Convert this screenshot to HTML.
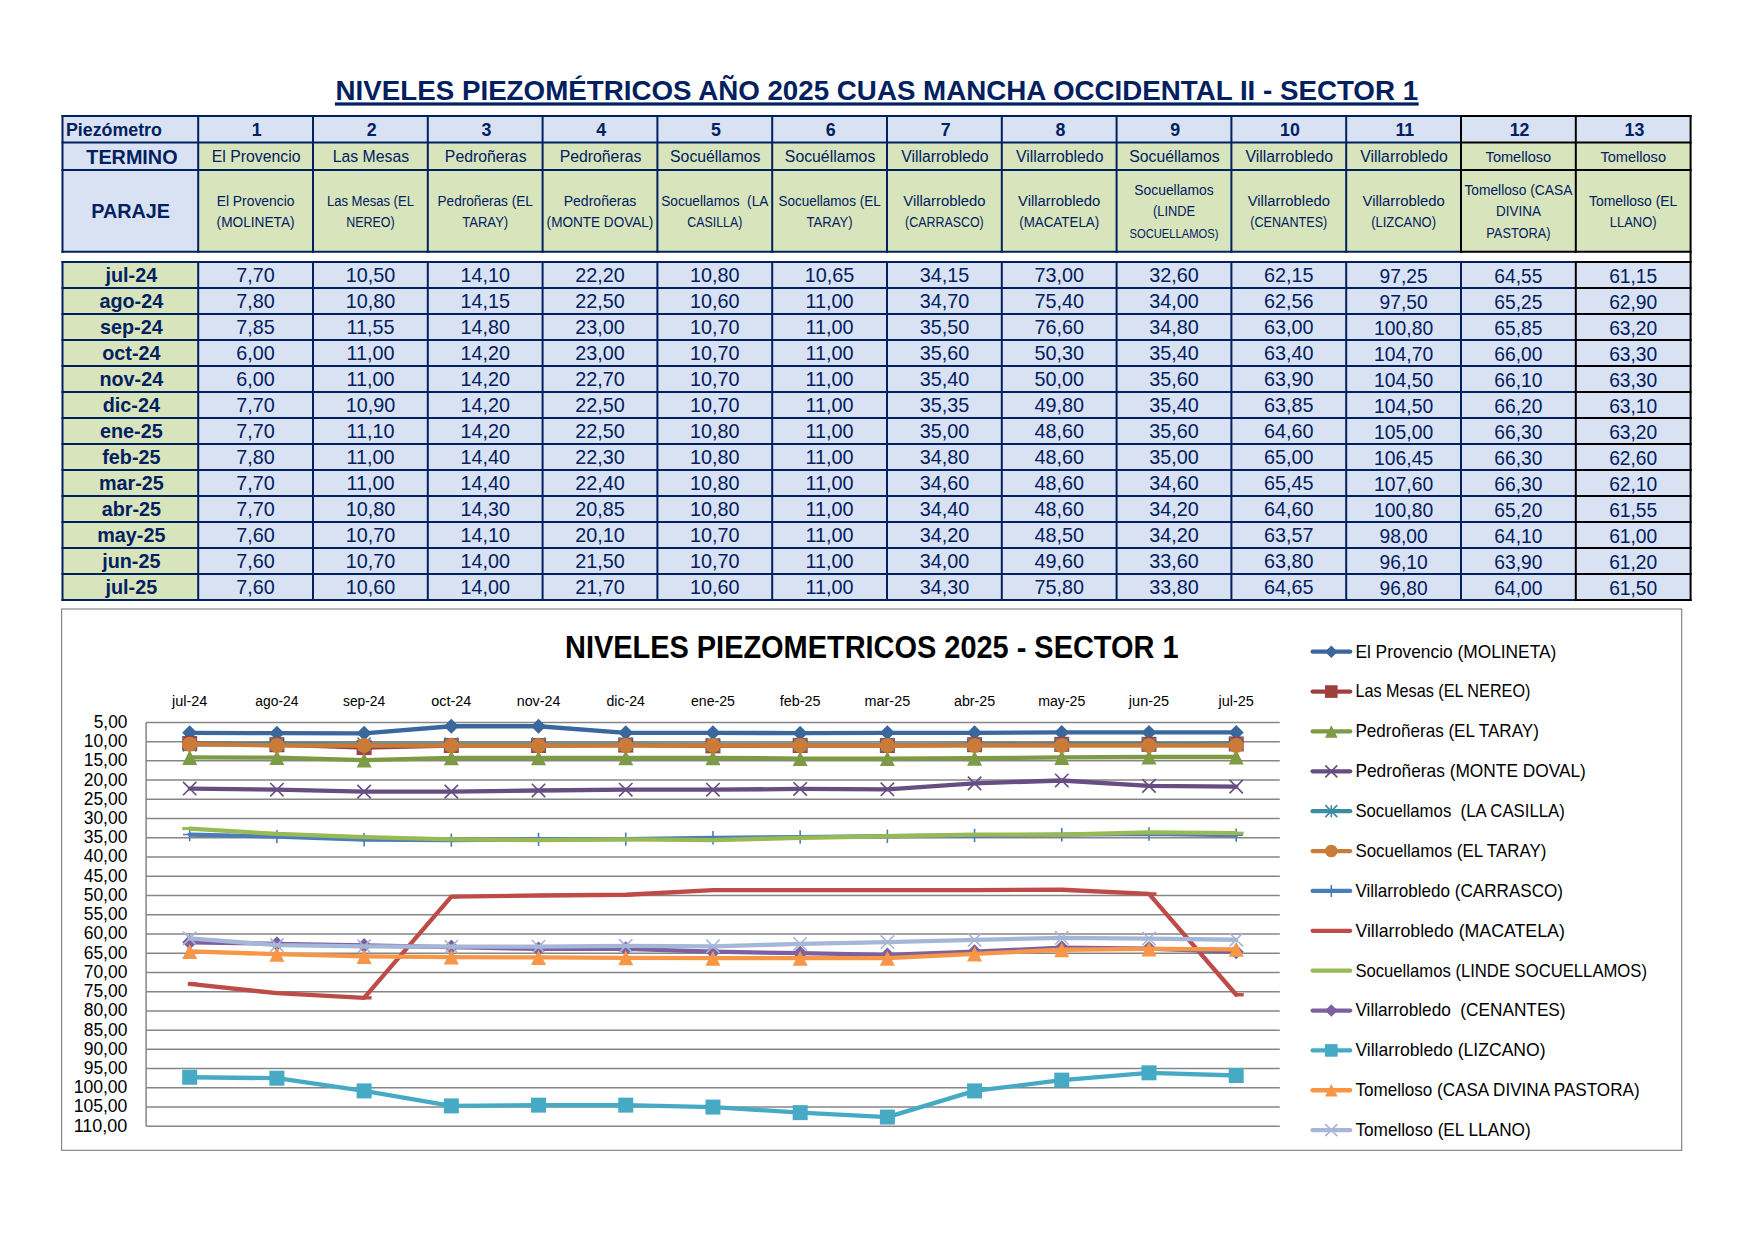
<!DOCTYPE html>
<html lang="es"><head><meta charset="utf-8"><title>Niveles piezométricos 2025 - Sector 1</title>
<style>
html,body{margin:0;padding:0;background:#fff;}
body{width:1755px;height:1241px;overflow:hidden;font-family:"Liberation Sans",sans-serif;}
svg{display:block;font-family:"Liberation Sans",sans-serif;}
.n{fill:#002060}
.b{font-weight:bold}
.m{text-anchor:middle}
.e{text-anchor:end}
.t8{font-size:15.8px}.t9{font-size:17.8px}.t10{font-size:19.8px}
.c8{font-size:14.4px}.c7{font-size:12.6px}.c11{font-size:18.9px}.c10{font-size:17.7px}
.gl{stroke:#868686;stroke-width:1.5}
</style></head><body>
<svg width="1755" height="1241" viewBox="0 0 1755 1241">
<g id="title">
<text class="n b" x="335.6" y="99.6" font-size="27.75" textLength="1082.5" lengthAdjust="spacingAndGlyphs">NIVELES PIEZOMÉTRICOS AÑO 2025 CUAS MANCHA OCCIDENTAL II - SECTOR 1</text>
<rect x="334.9" y="102.4" width="1083.8" height="3.2" fill="#002060"/>
</g>
<g id="table-fills">
<rect x="62.5" y="116.1" width="1628.1" height="26.5" fill="#D9E2F3"/>
<rect x="62.5" y="142.6" width="135.7" height="109.2" fill="#D9E2F3"/>
<rect x="198.2" y="142.6" width="1492.4" height="109.2" fill="#D8E4BC"/>
<rect x="62.5" y="262.0" width="135.7" height="338" fill="#D8E4BC"/>
<rect x="198.2" y="262.0" width="1492.4" height="338" fill="#D9E2F3"/>
</g>
<g id="table-borders" stroke="#002060" stroke-width="2" stroke-linecap="square" fill="none">
<line x1="62.5" y1="116.1" x2="1461" y2="116.1"/>
<line x1="62.5" y1="142.6" x2="1461" y2="142.6"/>
<line x1="62.5" y1="170.0" x2="1461" y2="170.0"/>
<line x1="62.5" y1="251.8" x2="1461" y2="251.8"/>
<line x1="62.5" y1="116.1" x2="62.5" y2="251.8"/>
<line x1="198.2" y1="116.1" x2="198.2" y2="251.8"/>
<line x1="313" y1="116.1" x2="313" y2="251.8"/>
<line x1="427.8" y1="116.1" x2="427.8" y2="251.8"/>
<line x1="542.6" y1="116.1" x2="542.6" y2="251.8"/>
<line x1="657.4" y1="116.1" x2="657.4" y2="251.8"/>
<line x1="772.2" y1="116.1" x2="772.2" y2="251.8"/>
<line x1="887" y1="116.1" x2="887" y2="251.8"/>
<line x1="1001.8" y1="116.1" x2="1001.8" y2="251.8"/>
<line x1="1116.6" y1="116.1" x2="1116.6" y2="251.8"/>
<line x1="1231.4" y1="116.1" x2="1231.4" y2="251.8"/>
<line x1="1346.2" y1="116.1" x2="1346.2" y2="251.8"/>
<line x1="62.5" y1="262" x2="1575.8" y2="262"/>
<line x1="62.5" y1="288" x2="1575.8" y2="288"/>
<line x1="62.5" y1="314" x2="1575.8" y2="314"/>
<line x1="62.5" y1="340" x2="1575.8" y2="340"/>
<line x1="62.5" y1="366" x2="1575.8" y2="366"/>
<line x1="62.5" y1="392" x2="1575.8" y2="392"/>
<line x1="62.5" y1="418" x2="1575.8" y2="418"/>
<line x1="62.5" y1="444" x2="1575.8" y2="444"/>
<line x1="62.5" y1="470" x2="1575.8" y2="470"/>
<line x1="62.5" y1="496" x2="1575.8" y2="496"/>
<line x1="62.5" y1="522" x2="1575.8" y2="522"/>
<line x1="62.5" y1="548" x2="1575.8" y2="548"/>
<line x1="62.5" y1="574" x2="1575.8" y2="574"/>
<line x1="62.5" y1="600" x2="1575.8" y2="600"/>
<line x1="62.5" y1="262.0" x2="62.5" y2="600"/>
<line x1="198.2" y1="262.0" x2="198.2" y2="600"/>
<line x1="313" y1="262.0" x2="313" y2="600"/>
<line x1="427.8" y1="262.0" x2="427.8" y2="600"/>
<line x1="542.6" y1="262.0" x2="542.6" y2="600"/>
<line x1="657.4" y1="262.0" x2="657.4" y2="600"/>
<line x1="772.2" y1="262.0" x2="772.2" y2="600"/>
<line x1="887" y1="262.0" x2="887" y2="600"/>
<line x1="1001.8" y1="262.0" x2="1001.8" y2="600"/>
<line x1="1116.6" y1="262.0" x2="1116.6" y2="600"/>
<line x1="1231.4" y1="262.0" x2="1231.4" y2="600"/>
<line x1="1346.2" y1="262.0" x2="1346.2" y2="600"/>
<line x1="1461" y1="262.0" x2="1461" y2="600"/>
</g>
<g id="table-borders-black" stroke="#000000" stroke-width="2" stroke-linecap="square" fill="none">
<line x1="1461" y1="116.1" x2="1690.6" y2="116.1"/>
<line x1="1461" y1="142.6" x2="1690.6" y2="142.6"/>
<line x1="1461" y1="170.0" x2="1690.6" y2="170.0"/>
<line x1="1461" y1="251.8" x2="1690.6" y2="251.8"/>
<line x1="1461" y1="116.1" x2="1461" y2="251.8"/>
<line x1="1575.8" y1="116.1" x2="1575.8" y2="251.8"/>
<line x1="1690.6" y1="116.1" x2="1690.6" y2="600"/>
<line x1="1575.8" y1="262" x2="1690.6" y2="262"/>
<line x1="1575.8" y1="288" x2="1690.6" y2="288"/>
<line x1="1575.8" y1="314" x2="1690.6" y2="314"/>
<line x1="1575.8" y1="340" x2="1690.6" y2="340"/>
<line x1="1575.8" y1="366" x2="1690.6" y2="366"/>
<line x1="1575.8" y1="392" x2="1690.6" y2="392"/>
<line x1="1575.8" y1="418" x2="1690.6" y2="418"/>
<line x1="1575.8" y1="444" x2="1690.6" y2="444"/>
<line x1="1575.8" y1="470" x2="1690.6" y2="470"/>
<line x1="1575.8" y1="496" x2="1690.6" y2="496"/>
<line x1="1575.8" y1="522" x2="1690.6" y2="522"/>
<line x1="1575.8" y1="548" x2="1690.6" y2="548"/>
<line x1="1575.8" y1="574" x2="1690.6" y2="574"/>
<line x1="1575.8" y1="600" x2="1690.6" y2="600"/>
<line x1="1575.8" y1="262.0" x2="1575.8" y2="600"/>
</g>
<g id="table-head" class="n">
<text class="b t9" x="66.0" y="136.1">Piezómetro</text>
<text class="b t10 m" x="131.95" y="164.0">TERMINO</text>
<text class="b t10 m" x="130.65" y="218.2">PARAJE</text>
<text class="b t9 m" x="256.8" y="136.1">1</text>
<text class="b t9 m" x="371.6" y="136.1">2</text>
<text class="b t9 m" x="486.4" y="136.1">3</text>
<text class="b t9 m" x="601.2" y="136.1">4</text>
<text class="b t9 m" x="716" y="136.1">5</text>
<text class="b t9 m" x="830.8" y="136.1">6</text>
<text class="b t9 m" x="945.6" y="136.1">7</text>
<text class="b t9 m" x="1060.4" y="136.1">8</text>
<text class="b t9 m" x="1175.2" y="136.1">9</text>
<text class="b t9 m" x="1290" y="136.1">10</text>
<text class="b t9 m" x="1404.8" y="136.1">11</text>
<text class="b t9 m" x="1519.6" y="136.1">12</text>
<text class="b t9 m" x="1634.4" y="136.1">13</text>
<text class="t8 m" x="256.1" y="161.8">El Provencio</text>
<text class="t8 m" x="370.9" y="161.8">Las Mesas</text>
<text class="t8 m" x="485.7" y="161.8">Pedroñeras</text>
<text class="t8 m" x="600.5" y="161.8">Pedroñeras</text>
<text class="t8 m" x="715.3" y="161.8">Socuéllamos</text>
<text class="t8 m" x="830.1" y="161.8">Socuéllamos</text>
<text class="t8 m" x="944.9" y="161.8">Villarrobledo</text>
<text class="t8 m" x="1059.7" y="161.8">Villarrobledo</text>
<text class="t8 m" x="1174.5" y="161.8">Socuéllamos</text>
<text class="t8 m" x="1289.3" y="161.8">Villarrobledo</text>
<text class="t8 m" x="1404.1" y="161.8">Villarrobledo</text>
<text class="m" x="1518.4" y="161.9" font-size="14.25" textLength="65.61" lengthAdjust="spacingAndGlyphs" xml:space="preserve">Tomelloso</text>
<text class="m" x="1633.2" y="161.9" font-size="14.25" textLength="65.61" lengthAdjust="spacingAndGlyphs" xml:space="preserve">Tomelloso</text>
<text class="m" x="255.6" y="205.9" font-size="14.25" textLength="77.89" lengthAdjust="spacingAndGlyphs" xml:space="preserve">El Provencio</text>
<text class="m" x="255.6" y="226.9" font-size="14.25" textLength="77.97" lengthAdjust="spacingAndGlyphs" xml:space="preserve">(MOLINETA)</text>
<text class="m" x="370.4" y="205.9" font-size="14.25" textLength="87.03" lengthAdjust="spacingAndGlyphs" xml:space="preserve">Las Mesas (EL</text>
<text class="m" x="370.4" y="226.9" font-size="14.25" textLength="48.45" lengthAdjust="spacingAndGlyphs" xml:space="preserve">NEREO)</text>
<text class="m" x="485.2" y="205.9" font-size="14.25" textLength="95.39" lengthAdjust="spacingAndGlyphs" xml:space="preserve">Pedroñeras (EL</text>
<text class="m" x="485.2" y="226.9" font-size="14.25" textLength="46.04" lengthAdjust="spacingAndGlyphs" xml:space="preserve">TARAY)</text>
<text class="m" x="600" y="205.9" font-size="14.25" textLength="72.64" lengthAdjust="spacingAndGlyphs" xml:space="preserve">Pedroñeras</text>
<text class="m" x="600" y="226.9" font-size="14.25" textLength="106.76" lengthAdjust="spacingAndGlyphs" xml:space="preserve">(MONTE DOVAL)</text>
<text class="m" x="714.8" y="205.9" font-size="14.25" textLength="107.18" lengthAdjust="spacingAndGlyphs" xml:space="preserve">Socuellamos  (LA</text>
<text class="m" x="714.8" y="226.9" font-size="14.25" textLength="55.02" lengthAdjust="spacingAndGlyphs" xml:space="preserve">CASILLA)</text>
<text class="m" x="829.6" y="205.9" font-size="14.25" textLength="102.16" lengthAdjust="spacingAndGlyphs" xml:space="preserve">Socuellamos (EL</text>
<text class="m" x="829.6" y="226.9" font-size="14.25" textLength="46.04" lengthAdjust="spacingAndGlyphs" xml:space="preserve">TARAY)</text>
<text class="m" x="944.4" y="205.9" font-size="14.25" textLength="82.2" lengthAdjust="spacingAndGlyphs" xml:space="preserve">Villarrobledo</text>
<text class="m" x="944.4" y="226.9" font-size="14.25" textLength="78.64" lengthAdjust="spacingAndGlyphs" xml:space="preserve">(CARRASCO)</text>
<text class="m" x="1059.2" y="205.9" font-size="14.25" textLength="82.2" lengthAdjust="spacingAndGlyphs" xml:space="preserve">Villarrobledo</text>
<text class="m" x="1059.2" y="226.9" font-size="14.25" textLength="80.05" lengthAdjust="spacingAndGlyphs" xml:space="preserve">(MACATELA)</text>
<text class="m" x="1174" y="194.8" font-size="14.25" textLength="79.41" lengthAdjust="spacingAndGlyphs" xml:space="preserve">Socuellamos</text>
<text class="m" x="1174" y="216.4" font-size="14.25" textLength="42.02" lengthAdjust="spacingAndGlyphs" xml:space="preserve">(LINDE</text>
<text class="m" x="1174" y="237.6" font-size="12.47" textLength="88.83" lengthAdjust="spacingAndGlyphs" xml:space="preserve">SOCUELLAMOS)</text>
<text class="m" x="1288.8" y="205.9" font-size="14.25" textLength="82.2" lengthAdjust="spacingAndGlyphs" xml:space="preserve">Villarrobledo</text>
<text class="m" x="1288.8" y="226.9" font-size="14.25" textLength="76.98" lengthAdjust="spacingAndGlyphs" xml:space="preserve">(CENANTES)</text>
<text class="m" x="1403.6" y="205.9" font-size="14.25" textLength="82.2" lengthAdjust="spacingAndGlyphs" xml:space="preserve">Villarrobledo</text>
<text class="m" x="1403.6" y="226.9" font-size="14.25" textLength="64.85" lengthAdjust="spacingAndGlyphs" xml:space="preserve">(LIZCANO)</text>
<text class="m" x="1518.4" y="194.8" font-size="14.25" textLength="108.02" lengthAdjust="spacingAndGlyphs" xml:space="preserve">Tomelloso (CASA</text>
<text class="m" x="1518.4" y="216.4" font-size="14.25" textLength="44.98" lengthAdjust="spacingAndGlyphs" xml:space="preserve">DIVINA</text>
<text class="m" x="1518.4" y="237.6" font-size="14.25" textLength="64.26" lengthAdjust="spacingAndGlyphs" xml:space="preserve">PASTORA)</text>
<text class="m" x="1633.2" y="205.9" font-size="14.25" textLength="88.36" lengthAdjust="spacingAndGlyphs" xml:space="preserve">Tomelloso (EL</text>
<text class="m" x="1633.2" y="226.9" font-size="14.25" textLength="46.86" lengthAdjust="spacingAndGlyphs" xml:space="preserve">LLANO)</text>
</g>
<g id="table-body" class="n">
<text class="b t10 m" x="131.35" y="281.8">jul-24</text>
<text class="t10 m" x="255.6" y="281.8">7,70</text>
<text class="t10 m" x="370.4" y="281.8">10,50</text>
<text class="t10 m" x="485.2" y="281.8">14,10</text>
<text class="t10 m" x="600" y="281.8">22,20</text>
<text class="t10 m" x="714.8" y="281.8">10,80</text>
<text class="t10 m" x="829.6" y="281.8">10,65</text>
<text class="t10 m" x="944.4" y="281.8">34,15</text>
<text class="t10 m" x="1059.2" y="281.8">73,00</text>
<text class="t10 m" x="1174" y="281.8">32,60</text>
<text class="t10 m" x="1288.8" y="281.8">62,15</text>
<text class="m" x="1403.6" y="283.4" font-size="19.59" textLength="48.07" lengthAdjust="spacingAndGlyphs" xml:space="preserve">97,25</text>
<text class="m" x="1518.4" y="283.4" font-size="19.59" textLength="48.07" lengthAdjust="spacingAndGlyphs" xml:space="preserve">64,55</text>
<text class="m" x="1633.2" y="283.4" font-size="19.59" textLength="48.07" lengthAdjust="spacingAndGlyphs" xml:space="preserve">61,15</text>
<text class="b t10 m" x="131.35" y="307.8">ago-24</text>
<text class="t10 m" x="255.6" y="307.8">7,80</text>
<text class="t10 m" x="370.4" y="307.8">10,80</text>
<text class="t10 m" x="485.2" y="307.8">14,15</text>
<text class="t10 m" x="600" y="307.8">22,50</text>
<text class="t10 m" x="714.8" y="307.8">10,60</text>
<text class="t10 m" x="829.6" y="307.8">11,00</text>
<text class="t10 m" x="944.4" y="307.8">34,70</text>
<text class="t10 m" x="1059.2" y="307.8">75,40</text>
<text class="t10 m" x="1174" y="307.8">34,00</text>
<text class="t10 m" x="1288.8" y="307.8">62,56</text>
<text class="m" x="1403.6" y="309.4" font-size="19.59" textLength="48.07" lengthAdjust="spacingAndGlyphs" xml:space="preserve">97,50</text>
<text class="m" x="1518.4" y="309.4" font-size="19.59" textLength="48.07" lengthAdjust="spacingAndGlyphs" xml:space="preserve">65,25</text>
<text class="m" x="1633.2" y="309.4" font-size="19.59" textLength="48.07" lengthAdjust="spacingAndGlyphs" xml:space="preserve">62,90</text>
<text class="b t10 m" x="131.35" y="333.8">sep-24</text>
<text class="t10 m" x="255.6" y="333.8">7,85</text>
<text class="t10 m" x="370.4" y="333.8">11,55</text>
<text class="t10 m" x="485.2" y="333.8">14,80</text>
<text class="t10 m" x="600" y="333.8">23,00</text>
<text class="t10 m" x="714.8" y="333.8">10,70</text>
<text class="t10 m" x="829.6" y="333.8">11,00</text>
<text class="t10 m" x="944.4" y="333.8">35,50</text>
<text class="t10 m" x="1059.2" y="333.8">76,60</text>
<text class="t10 m" x="1174" y="333.8">34,80</text>
<text class="t10 m" x="1288.8" y="333.8">63,00</text>
<text class="m" x="1403.6" y="335.4" font-size="19.59" textLength="59.1" lengthAdjust="spacingAndGlyphs" xml:space="preserve">100,80</text>
<text class="m" x="1518.4" y="335.4" font-size="19.59" textLength="48.07" lengthAdjust="spacingAndGlyphs" xml:space="preserve">65,85</text>
<text class="m" x="1633.2" y="335.4" font-size="19.59" textLength="48.07" lengthAdjust="spacingAndGlyphs" xml:space="preserve">63,20</text>
<text class="b t10 m" x="131.35" y="359.8">oct-24</text>
<text class="t10 m" x="255.6" y="359.8">6,00</text>
<text class="t10 m" x="370.4" y="359.8">11,00</text>
<text class="t10 m" x="485.2" y="359.8">14,20</text>
<text class="t10 m" x="600" y="359.8">23,00</text>
<text class="t10 m" x="714.8" y="359.8">10,70</text>
<text class="t10 m" x="829.6" y="359.8">11,00</text>
<text class="t10 m" x="944.4" y="359.8">35,60</text>
<text class="t10 m" x="1059.2" y="359.8">50,30</text>
<text class="t10 m" x="1174" y="359.8">35,40</text>
<text class="t10 m" x="1288.8" y="359.8">63,40</text>
<text class="m" x="1403.6" y="361.4" font-size="19.59" textLength="59.1" lengthAdjust="spacingAndGlyphs" xml:space="preserve">104,70</text>
<text class="m" x="1518.4" y="361.4" font-size="19.59" textLength="48.07" lengthAdjust="spacingAndGlyphs" xml:space="preserve">66,00</text>
<text class="m" x="1633.2" y="361.4" font-size="19.59" textLength="48.07" lengthAdjust="spacingAndGlyphs" xml:space="preserve">63,30</text>
<text class="b t10 m" x="131.35" y="385.8">nov-24</text>
<text class="t10 m" x="255.6" y="385.8">6,00</text>
<text class="t10 m" x="370.4" y="385.8">11,00</text>
<text class="t10 m" x="485.2" y="385.8">14,20</text>
<text class="t10 m" x="600" y="385.8">22,70</text>
<text class="t10 m" x="714.8" y="385.8">10,70</text>
<text class="t10 m" x="829.6" y="385.8">11,00</text>
<text class="t10 m" x="944.4" y="385.8">35,40</text>
<text class="t10 m" x="1059.2" y="385.8">50,00</text>
<text class="t10 m" x="1174" y="385.8">35,60</text>
<text class="t10 m" x="1288.8" y="385.8">63,90</text>
<text class="m" x="1403.6" y="387.4" font-size="19.59" textLength="59.1" lengthAdjust="spacingAndGlyphs" xml:space="preserve">104,50</text>
<text class="m" x="1518.4" y="387.4" font-size="19.59" textLength="48.07" lengthAdjust="spacingAndGlyphs" xml:space="preserve">66,10</text>
<text class="m" x="1633.2" y="387.4" font-size="19.59" textLength="48.07" lengthAdjust="spacingAndGlyphs" xml:space="preserve">63,30</text>
<text class="b t10 m" x="131.35" y="411.8">dic-24</text>
<text class="t10 m" x="255.6" y="411.8">7,70</text>
<text class="t10 m" x="370.4" y="411.8">10,90</text>
<text class="t10 m" x="485.2" y="411.8">14,20</text>
<text class="t10 m" x="600" y="411.8">22,50</text>
<text class="t10 m" x="714.8" y="411.8">10,70</text>
<text class="t10 m" x="829.6" y="411.8">11,00</text>
<text class="t10 m" x="944.4" y="411.8">35,35</text>
<text class="t10 m" x="1059.2" y="411.8">49,80</text>
<text class="t10 m" x="1174" y="411.8">35,40</text>
<text class="t10 m" x="1288.8" y="411.8">63,85</text>
<text class="m" x="1403.6" y="413.4" font-size="19.59" textLength="59.1" lengthAdjust="spacingAndGlyphs" xml:space="preserve">104,50</text>
<text class="m" x="1518.4" y="413.4" font-size="19.59" textLength="48.07" lengthAdjust="spacingAndGlyphs" xml:space="preserve">66,20</text>
<text class="m" x="1633.2" y="413.4" font-size="19.59" textLength="48.07" lengthAdjust="spacingAndGlyphs" xml:space="preserve">63,10</text>
<text class="b t10 m" x="131.35" y="437.8">ene-25</text>
<text class="t10 m" x="255.6" y="437.8">7,70</text>
<text class="t10 m" x="370.4" y="437.8">11,10</text>
<text class="t10 m" x="485.2" y="437.8">14,20</text>
<text class="t10 m" x="600" y="437.8">22,50</text>
<text class="t10 m" x="714.8" y="437.8">10,80</text>
<text class="t10 m" x="829.6" y="437.8">11,00</text>
<text class="t10 m" x="944.4" y="437.8">35,00</text>
<text class="t10 m" x="1059.2" y="437.8">48,60</text>
<text class="t10 m" x="1174" y="437.8">35,60</text>
<text class="t10 m" x="1288.8" y="437.8">64,60</text>
<text class="m" x="1403.6" y="439.4" font-size="19.59" textLength="59.1" lengthAdjust="spacingAndGlyphs" xml:space="preserve">105,00</text>
<text class="m" x="1518.4" y="439.4" font-size="19.59" textLength="48.07" lengthAdjust="spacingAndGlyphs" xml:space="preserve">66,30</text>
<text class="m" x="1633.2" y="439.4" font-size="19.59" textLength="48.07" lengthAdjust="spacingAndGlyphs" xml:space="preserve">63,20</text>
<text class="b t10 m" x="131.35" y="463.8">feb-25</text>
<text class="t10 m" x="255.6" y="463.8">7,80</text>
<text class="t10 m" x="370.4" y="463.8">11,00</text>
<text class="t10 m" x="485.2" y="463.8">14,40</text>
<text class="t10 m" x="600" y="463.8">22,30</text>
<text class="t10 m" x="714.8" y="463.8">10,80</text>
<text class="t10 m" x="829.6" y="463.8">11,00</text>
<text class="t10 m" x="944.4" y="463.8">34,80</text>
<text class="t10 m" x="1059.2" y="463.8">48,60</text>
<text class="t10 m" x="1174" y="463.8">35,00</text>
<text class="t10 m" x="1288.8" y="463.8">65,00</text>
<text class="m" x="1403.6" y="465.4" font-size="19.59" textLength="59.1" lengthAdjust="spacingAndGlyphs" xml:space="preserve">106,45</text>
<text class="m" x="1518.4" y="465.4" font-size="19.59" textLength="48.07" lengthAdjust="spacingAndGlyphs" xml:space="preserve">66,30</text>
<text class="m" x="1633.2" y="465.4" font-size="19.59" textLength="48.07" lengthAdjust="spacingAndGlyphs" xml:space="preserve">62,60</text>
<text class="b t10 m" x="131.35" y="489.8">mar-25</text>
<text class="t10 m" x="255.6" y="489.8">7,70</text>
<text class="t10 m" x="370.4" y="489.8">11,00</text>
<text class="t10 m" x="485.2" y="489.8">14,40</text>
<text class="t10 m" x="600" y="489.8">22,40</text>
<text class="t10 m" x="714.8" y="489.8">10,80</text>
<text class="t10 m" x="829.6" y="489.8">11,00</text>
<text class="t10 m" x="944.4" y="489.8">34,60</text>
<text class="t10 m" x="1059.2" y="489.8">48,60</text>
<text class="t10 m" x="1174" y="489.8">34,60</text>
<text class="t10 m" x="1288.8" y="489.8">65,45</text>
<text class="m" x="1403.6" y="491.4" font-size="19.59" textLength="59.1" lengthAdjust="spacingAndGlyphs" xml:space="preserve">107,60</text>
<text class="m" x="1518.4" y="491.4" font-size="19.59" textLength="48.07" lengthAdjust="spacingAndGlyphs" xml:space="preserve">66,30</text>
<text class="m" x="1633.2" y="491.4" font-size="19.59" textLength="48.07" lengthAdjust="spacingAndGlyphs" xml:space="preserve">62,10</text>
<text class="b t10 m" x="131.35" y="515.8">abr-25</text>
<text class="t10 m" x="255.6" y="515.8">7,70</text>
<text class="t10 m" x="370.4" y="515.8">10,80</text>
<text class="t10 m" x="485.2" y="515.8">14,30</text>
<text class="t10 m" x="600" y="515.8">20,85</text>
<text class="t10 m" x="714.8" y="515.8">10,80</text>
<text class="t10 m" x="829.6" y="515.8">11,00</text>
<text class="t10 m" x="944.4" y="515.8">34,40</text>
<text class="t10 m" x="1059.2" y="515.8">48,60</text>
<text class="t10 m" x="1174" y="515.8">34,20</text>
<text class="t10 m" x="1288.8" y="515.8">64,60</text>
<text class="m" x="1403.6" y="517.4" font-size="19.59" textLength="59.1" lengthAdjust="spacingAndGlyphs" xml:space="preserve">100,80</text>
<text class="m" x="1518.4" y="517.4" font-size="19.59" textLength="48.07" lengthAdjust="spacingAndGlyphs" xml:space="preserve">65,20</text>
<text class="m" x="1633.2" y="517.4" font-size="19.59" textLength="48.07" lengthAdjust="spacingAndGlyphs" xml:space="preserve">61,55</text>
<text class="b t10 m" x="131.35" y="541.8">may-25</text>
<text class="t10 m" x="255.6" y="541.8">7,60</text>
<text class="t10 m" x="370.4" y="541.8">10,70</text>
<text class="t10 m" x="485.2" y="541.8">14,10</text>
<text class="t10 m" x="600" y="541.8">20,10</text>
<text class="t10 m" x="714.8" y="541.8">10,70</text>
<text class="t10 m" x="829.6" y="541.8">11,00</text>
<text class="t10 m" x="944.4" y="541.8">34,20</text>
<text class="t10 m" x="1059.2" y="541.8">48,50</text>
<text class="t10 m" x="1174" y="541.8">34,20</text>
<text class="t10 m" x="1288.8" y="541.8">63,57</text>
<text class="m" x="1403.6" y="543.4" font-size="19.59" textLength="48.07" lengthAdjust="spacingAndGlyphs" xml:space="preserve">98,00</text>
<text class="m" x="1518.4" y="543.4" font-size="19.59" textLength="48.07" lengthAdjust="spacingAndGlyphs" xml:space="preserve">64,10</text>
<text class="m" x="1633.2" y="543.4" font-size="19.59" textLength="48.07" lengthAdjust="spacingAndGlyphs" xml:space="preserve">61,00</text>
<text class="b t10 m" x="131.35" y="567.8">jun-25</text>
<text class="t10 m" x="255.6" y="567.8">7,60</text>
<text class="t10 m" x="370.4" y="567.8">10,70</text>
<text class="t10 m" x="485.2" y="567.8">14,00</text>
<text class="t10 m" x="600" y="567.8">21,50</text>
<text class="t10 m" x="714.8" y="567.8">10,70</text>
<text class="t10 m" x="829.6" y="567.8">11,00</text>
<text class="t10 m" x="944.4" y="567.8">34,00</text>
<text class="t10 m" x="1059.2" y="567.8">49,60</text>
<text class="t10 m" x="1174" y="567.8">33,60</text>
<text class="t10 m" x="1288.8" y="567.8">63,80</text>
<text class="m" x="1403.6" y="569.4" font-size="19.59" textLength="48.07" lengthAdjust="spacingAndGlyphs" xml:space="preserve">96,10</text>
<text class="m" x="1518.4" y="569.4" font-size="19.59" textLength="48.07" lengthAdjust="spacingAndGlyphs" xml:space="preserve">63,90</text>
<text class="m" x="1633.2" y="569.4" font-size="19.59" textLength="48.07" lengthAdjust="spacingAndGlyphs" xml:space="preserve">61,20</text>
<text class="b t10 m" x="131.35" y="593.8">jul-25</text>
<text class="t10 m" x="255.6" y="593.8">7,60</text>
<text class="t10 m" x="370.4" y="593.8">10,60</text>
<text class="t10 m" x="485.2" y="593.8">14,00</text>
<text class="t10 m" x="600" y="593.8">21,70</text>
<text class="t10 m" x="714.8" y="593.8">10,60</text>
<text class="t10 m" x="829.6" y="593.8">11,00</text>
<text class="t10 m" x="944.4" y="593.8">34,30</text>
<text class="t10 m" x="1059.2" y="593.8">75,80</text>
<text class="t10 m" x="1174" y="593.8">33,80</text>
<text class="t10 m" x="1288.8" y="593.8">64,65</text>
<text class="m" x="1403.6" y="595.4" font-size="19.59" textLength="48.07" lengthAdjust="spacingAndGlyphs" xml:space="preserve">96,80</text>
<text class="m" x="1518.4" y="595.4" font-size="19.59" textLength="48.07" lengthAdjust="spacingAndGlyphs" xml:space="preserve">64,00</text>
<text class="m" x="1633.2" y="595.4" font-size="19.59" textLength="48.07" lengthAdjust="spacingAndGlyphs" xml:space="preserve">61,50</text>
</g>
<g id="chart">
<rect x="61.6" y="609.0" width="1620.1" height="541.3" fill="#fff" stroke="#868686" stroke-width="1.2"/>
<text class="b" x="565.0" y="657.6" font-size="31.6" textLength="613.5" lengthAdjust="spacingAndGlyphs" fill="#000">NIVELES PIEZOMETRICOS 2025 - SECTOR 1</text>
<g class="gl">
<line x1="146.1" y1="722.4" x2="1279.8" y2="722.4"/>
<line x1="146.1" y1="741.63" x2="1279.8" y2="741.63"/>
<line x1="146.1" y1="760.87" x2="1279.8" y2="760.87"/>
<line x1="146.1" y1="780.1" x2="1279.8" y2="780.1"/>
<line x1="146.1" y1="799.33" x2="1279.8" y2="799.33"/>
<line x1="146.1" y1="818.57" x2="1279.8" y2="818.57"/>
<line x1="146.1" y1="837.8" x2="1279.8" y2="837.8"/>
<line x1="146.1" y1="857.03" x2="1279.8" y2="857.03"/>
<line x1="146.1" y1="876.27" x2="1279.8" y2="876.27"/>
<line x1="146.1" y1="895.5" x2="1279.8" y2="895.5"/>
<line x1="146.1" y1="914.73" x2="1279.8" y2="914.73"/>
<line x1="146.1" y1="933.97" x2="1279.8" y2="933.97"/>
<line x1="146.1" y1="953.2" x2="1279.8" y2="953.2"/>
<line x1="146.1" y1="972.43" x2="1279.8" y2="972.43"/>
<line x1="146.1" y1="991.67" x2="1279.8" y2="991.67"/>
<line x1="146.1" y1="1010.9" x2="1279.8" y2="1010.9"/>
<line x1="146.1" y1="1030.13" x2="1279.8" y2="1030.13"/>
<line x1="146.1" y1="1049.37" x2="1279.8" y2="1049.37"/>
<line x1="146.1" y1="1068.6" x2="1279.8" y2="1068.6"/>
<line x1="146.1" y1="1087.83" x2="1279.8" y2="1087.83"/>
<line x1="146.1" y1="1107.07" x2="1279.8" y2="1107.07"/>
<line x1="146.1" y1="1126.3" x2="1279.8" y2="1126.3"/>
<line x1="146.1" y1="722.4" x2="146.1" y2="1126.3"/>
</g>
<g fill="#000">
<text class="e" x="127.4" y="727.8" font-size="17.81" textLength="33.66" lengthAdjust="spacingAndGlyphs" xml:space="preserve">5,00</text>
<text class="e" x="127.4" y="747.03" font-size="17.81" textLength="43.7" lengthAdjust="spacingAndGlyphs" xml:space="preserve">10,00</text>
<text class="e" x="127.4" y="766.27" font-size="17.81" textLength="43.7" lengthAdjust="spacingAndGlyphs" xml:space="preserve">15,00</text>
<text class="e" x="127.4" y="785.5" font-size="17.81" textLength="43.7" lengthAdjust="spacingAndGlyphs" xml:space="preserve">20,00</text>
<text class="e" x="127.4" y="804.73" font-size="17.81" textLength="43.7" lengthAdjust="spacingAndGlyphs" xml:space="preserve">25,00</text>
<text class="e" x="127.4" y="823.97" font-size="17.81" textLength="43.7" lengthAdjust="spacingAndGlyphs" xml:space="preserve">30,00</text>
<text class="e" x="127.4" y="843.2" font-size="17.81" textLength="43.7" lengthAdjust="spacingAndGlyphs" xml:space="preserve">35,00</text>
<text class="e" x="127.4" y="862.43" font-size="17.81" textLength="43.7" lengthAdjust="spacingAndGlyphs" xml:space="preserve">40,00</text>
<text class="e" x="127.4" y="881.67" font-size="17.81" textLength="43.7" lengthAdjust="spacingAndGlyphs" xml:space="preserve">45,00</text>
<text class="e" x="127.4" y="900.9" font-size="17.81" textLength="43.7" lengthAdjust="spacingAndGlyphs" xml:space="preserve">50,00</text>
<text class="e" x="127.4" y="920.13" font-size="17.81" textLength="43.7" lengthAdjust="spacingAndGlyphs" xml:space="preserve">55,00</text>
<text class="e" x="127.4" y="939.37" font-size="17.81" textLength="43.7" lengthAdjust="spacingAndGlyphs" xml:space="preserve">60,00</text>
<text class="e" x="127.4" y="958.6" font-size="17.81" textLength="43.7" lengthAdjust="spacingAndGlyphs" xml:space="preserve">65,00</text>
<text class="e" x="127.4" y="977.83" font-size="17.81" textLength="43.7" lengthAdjust="spacingAndGlyphs" xml:space="preserve">70,00</text>
<text class="e" x="127.4" y="997.07" font-size="17.81" textLength="43.7" lengthAdjust="spacingAndGlyphs" xml:space="preserve">75,00</text>
<text class="e" x="127.4" y="1016.3" font-size="17.81" textLength="43.7" lengthAdjust="spacingAndGlyphs" xml:space="preserve">80,00</text>
<text class="e" x="127.4" y="1035.53" font-size="17.81" textLength="43.7" lengthAdjust="spacingAndGlyphs" xml:space="preserve">85,00</text>
<text class="e" x="127.4" y="1054.77" font-size="17.81" textLength="43.7" lengthAdjust="spacingAndGlyphs" xml:space="preserve">90,00</text>
<text class="e" x="127.4" y="1074" font-size="17.81" textLength="43.7" lengthAdjust="spacingAndGlyphs" xml:space="preserve">95,00</text>
<text class="e" x="127.4" y="1093.23" font-size="17.81" textLength="53.73" lengthAdjust="spacingAndGlyphs" xml:space="preserve">100,00</text>
<text class="e" x="127.4" y="1112.47" font-size="17.81" textLength="53.73" lengthAdjust="spacingAndGlyphs" xml:space="preserve">105,00</text>
<text class="e" x="127.4" y="1131.7" font-size="17.81" textLength="53.73" lengthAdjust="spacingAndGlyphs" xml:space="preserve">110,00</text>
<text class="m" x="189.7" y="706" font-size="14.25" textLength="35.51" lengthAdjust="spacingAndGlyphs" xml:space="preserve">jul-24</text>
<text class="m" x="276.91" y="706" font-size="14.25" textLength="43.17" lengthAdjust="spacingAndGlyphs" xml:space="preserve">ago-24</text>
<text class="m" x="364.12" y="706" font-size="14.25" textLength="42.18" lengthAdjust="spacingAndGlyphs" xml:space="preserve">sep-24</text>
<text class="m" x="451.33" y="706" font-size="14.25" textLength="40.13" lengthAdjust="spacingAndGlyphs" xml:space="preserve">oct-24</text>
<text class="m" x="538.53" y="706" font-size="14.25" textLength="43.6" lengthAdjust="spacingAndGlyphs" xml:space="preserve">nov-24</text>
<text class="m" x="625.74" y="706" font-size="14.25" textLength="38.42" lengthAdjust="spacingAndGlyphs" xml:space="preserve">dic-24</text>
<text class="m" x="712.95" y="706" font-size="14.25" textLength="43.87" lengthAdjust="spacingAndGlyphs" xml:space="preserve">ene-25</text>
<text class="m" x="800.16" y="706" font-size="14.25" textLength="40.81" lengthAdjust="spacingAndGlyphs" xml:space="preserve">feb-25</text>
<text class="m" x="887.37" y="706" font-size="14.25" textLength="45.55" lengthAdjust="spacingAndGlyphs" xml:space="preserve">mar-25</text>
<text class="m" x="974.57" y="706" font-size="14.25" textLength="41.21" lengthAdjust="spacingAndGlyphs" xml:space="preserve">abr-25</text>
<text class="m" x="1061.78" y="706" font-size="14.25" textLength="47.2" lengthAdjust="spacingAndGlyphs" xml:space="preserve">may-25</text>
<text class="m" x="1148.99" y="706" font-size="14.25" textLength="40.2" lengthAdjust="spacingAndGlyphs" xml:space="preserve">jun-25</text>
<text class="m" x="1236.2" y="706" font-size="14.25" textLength="35.51" lengthAdjust="spacingAndGlyphs" xml:space="preserve">jul-25</text>
</g>
<g id="series">
<g><polyline points="189.7,732.79 276.91,733.17 364.12,733.36 451.33,726.25 538.53,726.25 625.74,732.79 712.95,732.79 800.16,733.17 887.37,732.79 974.57,732.79 1061.78,732.4 1148.99,732.4 1236.2,732.4" fill="none" stroke="#3A679C" stroke-width="4.3" stroke-linejoin="round" stroke-linecap="round"/>
<path d="M182.2 732.79L189.7 725.29L197.2 732.79L189.7 740.29Z" fill="#3A679C"/>
<path d="M269.41 733.17L276.91 725.67L284.41 733.17L276.91 740.67Z" fill="#3A679C"/>
<path d="M356.62 733.36L364.12 725.86L371.62 733.36L364.12 740.86Z" fill="#3A679C"/>
<path d="M443.83 726.25L451.33 718.75L458.83 726.25L451.33 733.75Z" fill="#3A679C"/>
<path d="M531.03 726.25L538.53 718.75L546.03 726.25L538.53 733.75Z" fill="#3A679C"/>
<path d="M618.24 732.79L625.74 725.29L633.24 732.79L625.74 740.29Z" fill="#3A679C"/>
<path d="M705.45 732.79L712.95 725.29L720.45 732.79L712.95 740.29Z" fill="#3A679C"/>
<path d="M792.66 733.17L800.16 725.67L807.66 733.17L800.16 740.67Z" fill="#3A679C"/>
<path d="M879.87 732.79L887.37 725.29L894.87 732.79L887.37 740.29Z" fill="#3A679C"/>
<path d="M967.07 732.79L974.57 725.29L982.07 732.79L974.57 740.29Z" fill="#3A679C"/>
<path d="M1054.28 732.4L1061.78 724.9L1069.28 732.4L1061.78 739.9Z" fill="#3A679C"/>
<path d="M1141.49 732.4L1148.99 724.9L1156.49 732.4L1148.99 739.9Z" fill="#3A679C"/>
<path d="M1228.7 732.4L1236.2 724.9L1243.7 732.4L1236.2 739.9Z" fill="#3A679C"/>
</g>
<g><polyline points="189.7,743.56 276.91,744.71 364.12,747.6 451.33,745.48 538.53,745.48 625.74,745.1 712.95,745.86 800.16,745.48 887.37,745.48 974.57,744.71 1061.78,744.33 1148.99,744.33 1236.2,743.94" fill="none" stroke="#9C3F3D" stroke-width="4.3" stroke-linejoin="round" stroke-linecap="round"/>
<rect x="182.2" y="736.06" width="15" height="15" fill="#9C3F3D"/>
<rect x="269.41" y="737.21" width="15" height="15" fill="#9C3F3D"/>
<rect x="356.62" y="740.1" width="15" height="15" fill="#9C3F3D"/>
<rect x="443.83" y="737.98" width="15" height="15" fill="#9C3F3D"/>
<rect x="531.03" y="737.98" width="15" height="15" fill="#9C3F3D"/>
<rect x="618.24" y="737.6" width="15" height="15" fill="#9C3F3D"/>
<rect x="705.45" y="738.36" width="15" height="15" fill="#9C3F3D"/>
<rect x="792.66" y="737.98" width="15" height="15" fill="#9C3F3D"/>
<rect x="879.87" y="737.98" width="15" height="15" fill="#9C3F3D"/>
<rect x="967.07" y="737.21" width="15" height="15" fill="#9C3F3D"/>
<rect x="1054.28" y="736.83" width="15" height="15" fill="#9C3F3D"/>
<rect x="1141.49" y="736.83" width="15" height="15" fill="#9C3F3D"/>
<rect x="1228.7" y="736.44" width="15" height="15" fill="#9C3F3D"/>
</g>
<g><polyline points="189.7,757.4 276.91,757.6 364.12,760.1 451.33,757.79 538.53,757.79 625.74,757.79 712.95,757.79 800.16,758.56 887.37,758.56 974.57,758.17 1061.78,757.4 1148.99,757.02 1236.2,757.02" fill="none" stroke="#7D9A45" stroke-width="4.3" stroke-linejoin="round" stroke-linecap="round"/>
<path d="M189.7 749.9L197.2 764.9L182.2 764.9Z" fill="#7D9A45"/>
<path d="M276.91 750.1L284.41 765.1L269.41 765.1Z" fill="#7D9A45"/>
<path d="M364.12 752.6L371.62 767.6L356.62 767.6Z" fill="#7D9A45"/>
<path d="M451.33 750.29L458.83 765.29L443.83 765.29Z" fill="#7D9A45"/>
<path d="M538.53 750.29L546.03 765.29L531.03 765.29Z" fill="#7D9A45"/>
<path d="M625.74 750.29L633.24 765.29L618.24 765.29Z" fill="#7D9A45"/>
<path d="M712.95 750.29L720.45 765.29L705.45 765.29Z" fill="#7D9A45"/>
<path d="M800.16 751.06L807.66 766.06L792.66 766.06Z" fill="#7D9A45"/>
<path d="M887.37 751.06L894.87 766.06L879.87 766.06Z" fill="#7D9A45"/>
<path d="M974.57 750.67L982.07 765.67L967.07 765.67Z" fill="#7D9A45"/>
<path d="M1061.78 749.9L1069.28 764.9L1054.28 764.9Z" fill="#7D9A45"/>
<path d="M1148.99 749.52L1156.49 764.52L1141.49 764.52Z" fill="#7D9A45"/>
<path d="M1236.2 749.52L1243.7 764.52L1228.7 764.52Z" fill="#7D9A45"/>
</g>
<g><polyline points="189.7,788.56 276.91,789.72 364.12,791.64 451.33,791.64 538.53,790.49 625.74,789.72 712.95,789.72 800.16,788.95 887.37,789.33 974.57,783.37 1061.78,780.48 1148.99,785.87 1236.2,786.64" fill="none" stroke="#664E83" stroke-width="4.3" stroke-linejoin="round" stroke-linecap="round"/>
<path d="M183 781.86L196.4 795.26M196.4 781.86L183 795.26" stroke="#664E83" stroke-width="1.6" fill="none"/>
<path d="M270.21 783.02L283.61 796.42M283.61 783.02L270.21 796.42" stroke="#664E83" stroke-width="1.6" fill="none"/>
<path d="M357.42 784.94L370.82 798.34M370.82 784.94L357.42 798.34" stroke="#664E83" stroke-width="1.6" fill="none"/>
<path d="M444.63 784.94L458.03 798.34M458.03 784.94L444.63 798.34" stroke="#664E83" stroke-width="1.6" fill="none"/>
<path d="M531.83 783.79L545.23 797.19M545.23 783.79L531.83 797.19" stroke="#664E83" stroke-width="1.6" fill="none"/>
<path d="M619.04 783.02L632.44 796.42M632.44 783.02L619.04 796.42" stroke="#664E83" stroke-width="1.6" fill="none"/>
<path d="M706.25 783.02L719.65 796.42M719.65 783.02L706.25 796.42" stroke="#664E83" stroke-width="1.6" fill="none"/>
<path d="M793.46 782.25L806.86 795.65M806.86 782.25L793.46 795.65" stroke="#664E83" stroke-width="1.6" fill="none"/>
<path d="M880.67 782.63L894.07 796.03M894.07 782.63L880.67 796.03" stroke="#664E83" stroke-width="1.6" fill="none"/>
<path d="M967.87 776.67L981.27 790.07M981.27 776.67L967.87 790.07" stroke="#664E83" stroke-width="1.6" fill="none"/>
<path d="M1055.08 773.78L1068.48 787.18M1068.48 773.78L1055.08 787.18" stroke="#664E83" stroke-width="1.6" fill="none"/>
<path d="M1142.29 779.17L1155.69 792.57M1155.69 779.17L1142.29 792.57" stroke="#664E83" stroke-width="1.6" fill="none"/>
<path d="M1229.5 779.94L1242.9 793.34M1242.9 779.94L1229.5 793.34" stroke="#664E83" stroke-width="1.6" fill="none"/>
</g>
<g><polyline points="189.7,744.71 276.91,743.94 364.12,744.33 451.33,744.33 538.53,744.33 625.74,744.33 712.95,744.71 800.16,744.71 887.37,744.71 974.57,744.71 1061.78,744.33 1148.99,744.33 1236.2,743.94" fill="none" stroke="#398CA3" stroke-width="4.3" stroke-linejoin="round" stroke-linecap="round"/>
<path d="M183 738.01L196.4 751.41M196.4 738.01L183 751.41M189.7 738.01L189.7 751.41" stroke="#398CA3" stroke-width="1.6" fill="none"/>
<path d="M270.21 737.24L283.61 750.64M283.61 737.24L270.21 750.64M276.91 737.24L276.91 750.64" stroke="#398CA3" stroke-width="1.6" fill="none"/>
<path d="M357.42 737.63L370.82 751.03M370.82 737.63L357.42 751.03M364.12 737.63L364.12 751.03" stroke="#398CA3" stroke-width="1.6" fill="none"/>
<path d="M444.63 737.63L458.03 751.03M458.03 737.63L444.63 751.03M451.33 737.63L451.33 751.03" stroke="#398CA3" stroke-width="1.6" fill="none"/>
<path d="M531.83 737.63L545.23 751.03M545.23 737.63L531.83 751.03M538.53 737.63L538.53 751.03" stroke="#398CA3" stroke-width="1.6" fill="none"/>
<path d="M619.04 737.63L632.44 751.03M632.44 737.63L619.04 751.03M625.74 737.63L625.74 751.03" stroke="#398CA3" stroke-width="1.6" fill="none"/>
<path d="M706.25 738.01L719.65 751.41M719.65 738.01L706.25 751.41M712.95 738.01L712.95 751.41" stroke="#398CA3" stroke-width="1.6" fill="none"/>
<path d="M793.46 738.01L806.86 751.41M806.86 738.01L793.46 751.41M800.16 738.01L800.16 751.41" stroke="#398CA3" stroke-width="1.6" fill="none"/>
<path d="M880.67 738.01L894.07 751.41M894.07 738.01L880.67 751.41M887.37 738.01L887.37 751.41" stroke="#398CA3" stroke-width="1.6" fill="none"/>
<path d="M967.87 738.01L981.27 751.41M981.27 738.01L967.87 751.41M974.57 738.01L974.57 751.41" stroke="#398CA3" stroke-width="1.6" fill="none"/>
<path d="M1055.08 737.63L1068.48 751.03M1068.48 737.63L1055.08 751.03M1061.78 737.63L1061.78 751.03" stroke="#398CA3" stroke-width="1.6" fill="none"/>
<path d="M1142.29 737.63L1155.69 751.03M1155.69 737.63L1142.29 751.03M1148.99 737.63L1148.99 751.03" stroke="#398CA3" stroke-width="1.6" fill="none"/>
<path d="M1229.5 737.24L1242.9 750.64M1242.9 737.24L1229.5 750.64M1236.2 737.24L1236.2 750.64" stroke="#398CA3" stroke-width="1.6" fill="none"/>
</g>
<g><polyline points="189.7,744.13 276.91,745.48 364.12,745.48 451.33,745.48 538.53,745.48 625.74,745.48 712.95,745.48 800.16,745.48 887.37,745.48 974.57,745.48 1061.78,745.48 1148.99,745.48 1236.2,745.48" fill="none" stroke="#CB7B38" stroke-width="4.3" stroke-linejoin="round" stroke-linecap="round"/>
<circle cx="189.7" cy="744.13" r="7.5" fill="#CB7B38"/>
<circle cx="276.91" cy="745.48" r="7.5" fill="#CB7B38"/>
<circle cx="364.12" cy="745.48" r="7.5" fill="#CB7B38"/>
<circle cx="451.33" cy="745.48" r="7.5" fill="#CB7B38"/>
<circle cx="538.53" cy="745.48" r="7.5" fill="#CB7B38"/>
<circle cx="625.74" cy="745.48" r="7.5" fill="#CB7B38"/>
<circle cx="712.95" cy="745.48" r="7.5" fill="#CB7B38"/>
<circle cx="800.16" cy="745.48" r="7.5" fill="#CB7B38"/>
<circle cx="887.37" cy="745.48" r="7.5" fill="#CB7B38"/>
<circle cx="974.57" cy="745.48" r="7.5" fill="#CB7B38"/>
<circle cx="1061.78" cy="745.48" r="7.5" fill="#CB7B38"/>
<circle cx="1148.99" cy="745.48" r="7.5" fill="#CB7B38"/>
<circle cx="1236.2" cy="745.48" r="7.5" fill="#CB7B38"/>
</g>
<g><polyline points="189.7,834.53 276.91,836.65 364.12,839.72 451.33,840.11 538.53,839.34 625.74,839.15 712.95,837.8 800.16,837.03 887.37,836.26 974.57,835.49 1061.78,834.72 1148.99,833.95 1236.2,835.11" fill="none" stroke="#4A7EBB" stroke-width="4.3" stroke-linejoin="round" stroke-linecap="round"/>
<path d="M183 834.53L196.4 834.53M189.7 827.83L189.7 841.23" stroke="#4A7EBB" stroke-width="1.6" fill="none"/>
<path d="M270.21 836.65L283.61 836.65M276.91 829.95L276.91 843.35" stroke="#4A7EBB" stroke-width="1.6" fill="none"/>
<path d="M357.42 839.72L370.82 839.72M364.12 833.02L364.12 846.42" stroke="#4A7EBB" stroke-width="1.6" fill="none"/>
<path d="M444.63 840.11L458.03 840.11M451.33 833.41L451.33 846.81" stroke="#4A7EBB" stroke-width="1.6" fill="none"/>
<path d="M531.83 839.34L545.23 839.34M538.53 832.64L538.53 846.04" stroke="#4A7EBB" stroke-width="1.6" fill="none"/>
<path d="M619.04 839.15L632.44 839.15M625.74 832.45L625.74 845.85" stroke="#4A7EBB" stroke-width="1.6" fill="none"/>
<path d="M706.25 837.8L719.65 837.8M712.95 831.1L712.95 844.5" stroke="#4A7EBB" stroke-width="1.6" fill="none"/>
<path d="M793.46 837.03L806.86 837.03M800.16 830.33L800.16 843.73" stroke="#4A7EBB" stroke-width="1.6" fill="none"/>
<path d="M880.67 836.26L894.07 836.26M887.37 829.56L887.37 842.96" stroke="#4A7EBB" stroke-width="1.6" fill="none"/>
<path d="M967.87 835.49L981.27 835.49M974.57 828.79L974.57 842.19" stroke="#4A7EBB" stroke-width="1.6" fill="none"/>
<path d="M1055.08 834.72L1068.48 834.72M1061.78 828.02L1061.78 841.42" stroke="#4A7EBB" stroke-width="1.6" fill="none"/>
<path d="M1142.29 833.95L1155.69 833.95M1148.99 827.25L1148.99 840.65" stroke="#4A7EBB" stroke-width="1.6" fill="none"/>
<path d="M1229.5 835.11L1242.9 835.11M1236.2 828.41L1236.2 841.81" stroke="#4A7EBB" stroke-width="1.6" fill="none"/>
</g>
<g><polyline points="189.7,983.97 276.91,993.21 364.12,997.82 451.33,896.65 538.53,895.5 625.74,894.73 712.95,890.11 800.16,890.11 887.37,890.11 974.57,890.11 1061.78,889.73 1148.99,893.96 1236.2,994.74" fill="none" stroke="#BE4B48" stroke-width="4.3" stroke-linejoin="round" stroke-linecap="round"/>
<path d="M189.7 983.97L197.2 983.97" stroke="#BE4B48" stroke-width="3.4" fill="none"/>
<path d="M276.91 993.21L284.41 993.21" stroke="#BE4B48" stroke-width="3.4" fill="none"/>
<path d="M364.12 997.82L371.62 997.82" stroke="#BE4B48" stroke-width="3.4" fill="none"/>
<path d="M451.33 896.65L458.83 896.65" stroke="#BE4B48" stroke-width="3.4" fill="none"/>
<path d="M538.53 895.5L546.03 895.5" stroke="#BE4B48" stroke-width="3.4" fill="none"/>
<path d="M625.74 894.73L633.24 894.73" stroke="#BE4B48" stroke-width="3.4" fill="none"/>
<path d="M712.95 890.11L720.45 890.11" stroke="#BE4B48" stroke-width="3.4" fill="none"/>
<path d="M800.16 890.11L807.66 890.11" stroke="#BE4B48" stroke-width="3.4" fill="none"/>
<path d="M887.37 890.11L894.87 890.11" stroke="#BE4B48" stroke-width="3.4" fill="none"/>
<path d="M974.57 890.11L982.07 890.11" stroke="#BE4B48" stroke-width="3.4" fill="none"/>
<path d="M1061.78 889.73L1069.28 889.73" stroke="#BE4B48" stroke-width="3.4" fill="none"/>
<path d="M1148.99 893.96L1156.49 893.96" stroke="#BE4B48" stroke-width="3.4" fill="none"/>
<path d="M1236.2 994.74L1243.7 994.74" stroke="#BE4B48" stroke-width="3.4" fill="none"/>
</g>
<g><polyline points="189.7,828.57 276.91,833.95 364.12,837.03 451.33,839.34 538.53,840.11 625.74,839.34 712.95,840.11 800.16,837.8 887.37,836.26 974.57,834.72 1061.78,834.72 1148.99,832.41 1236.2,833.18" fill="none" stroke="#98B954" stroke-width="4.3" stroke-linejoin="round" stroke-linecap="round"/>
<path d="M182.2 828.57L197.2 828.57" stroke="#98B954" stroke-width="3" fill="none"/>
<path d="M269.41 833.95L284.41 833.95" stroke="#98B954" stroke-width="3" fill="none"/>
<path d="M356.62 837.03L371.62 837.03" stroke="#98B954" stroke-width="3" fill="none"/>
<path d="M443.83 839.34L458.83 839.34" stroke="#98B954" stroke-width="3" fill="none"/>
<path d="M531.03 840.11L546.03 840.11" stroke="#98B954" stroke-width="3" fill="none"/>
<path d="M618.24 839.34L633.24 839.34" stroke="#98B954" stroke-width="3" fill="none"/>
<path d="M705.45 840.11L720.45 840.11" stroke="#98B954" stroke-width="3" fill="none"/>
<path d="M792.66 837.8L807.66 837.8" stroke="#98B954" stroke-width="3" fill="none"/>
<path d="M879.87 836.26L894.87 836.26" stroke="#98B954" stroke-width="3" fill="none"/>
<path d="M967.07 834.72L982.07 834.72" stroke="#98B954" stroke-width="3" fill="none"/>
<path d="M1054.28 834.72L1069.28 834.72" stroke="#98B954" stroke-width="3" fill="none"/>
<path d="M1141.49 832.41L1156.49 832.41" stroke="#98B954" stroke-width="3" fill="none"/>
<path d="M1228.7 833.18L1243.7 833.18" stroke="#98B954" stroke-width="3" fill="none"/>
</g>
<g><polyline points="189.7,942.24 276.91,943.81 364.12,945.51 451.33,947.05 538.53,948.97 625.74,948.78 712.95,951.66 800.16,953.2 887.37,954.93 974.57,951.66 1061.78,947.7 1148.99,948.58 1236.2,951.85" fill="none" stroke="#7D60A0" stroke-width="4.3" stroke-linejoin="round" stroke-linecap="round"/>
<path d="M182.2 942.24L189.7 934.74L197.2 942.24L189.7 949.74Z" fill="#7D60A0"/>
<path d="M269.41 943.81L276.91 936.31L284.41 943.81L276.91 951.31Z" fill="#7D60A0"/>
<path d="M356.62 945.51L364.12 938.01L371.62 945.51L364.12 953.01Z" fill="#7D60A0"/>
<path d="M443.83 947.05L451.33 939.55L458.83 947.05L451.33 954.55Z" fill="#7D60A0"/>
<path d="M531.03 948.97L538.53 941.47L546.03 948.97L538.53 956.47Z" fill="#7D60A0"/>
<path d="M618.24 948.78L625.74 941.28L633.24 948.78L625.74 956.28Z" fill="#7D60A0"/>
<path d="M705.45 951.66L712.95 944.16L720.45 951.66L712.95 959.16Z" fill="#7D60A0"/>
<path d="M792.66 953.2L800.16 945.7L807.66 953.2L800.16 960.7Z" fill="#7D60A0"/>
<path d="M879.87 954.93L887.37 947.43L894.87 954.93L887.37 962.43Z" fill="#7D60A0"/>
<path d="M967.07 951.66L974.57 944.16L982.07 951.66L974.57 959.16Z" fill="#7D60A0"/>
<path d="M1054.28 947.7L1061.78 940.2L1069.28 947.7L1061.78 955.2Z" fill="#7D60A0"/>
<path d="M1141.49 948.58L1148.99 941.08L1156.49 948.58L1148.99 956.08Z" fill="#7D60A0"/>
<path d="M1228.7 951.85L1236.2 944.35L1243.7 951.85L1236.2 959.35Z" fill="#7D60A0"/>
</g>
<g><polyline points="189.7,1077.25 276.91,1078.22 364.12,1090.91 451.33,1105.91 538.53,1105.14 625.74,1105.14 712.95,1107.07 800.16,1112.64 887.37,1117.07 974.57,1090.91 1061.78,1080.14 1148.99,1072.83 1236.2,1075.52" fill="none" stroke="#46AAC5" stroke-width="4.3" stroke-linejoin="round" stroke-linecap="round"/>
<rect x="182.2" y="1069.75" width="15" height="15" fill="#46AAC5"/>
<rect x="269.41" y="1070.72" width="15" height="15" fill="#46AAC5"/>
<rect x="356.62" y="1083.41" width="15" height="15" fill="#46AAC5"/>
<rect x="443.83" y="1098.41" width="15" height="15" fill="#46AAC5"/>
<rect x="531.03" y="1097.64" width="15" height="15" fill="#46AAC5"/>
<rect x="618.24" y="1097.64" width="15" height="15" fill="#46AAC5"/>
<rect x="705.45" y="1099.57" width="15" height="15" fill="#46AAC5"/>
<rect x="792.66" y="1105.14" width="15" height="15" fill="#46AAC5"/>
<rect x="879.87" y="1109.57" width="15" height="15" fill="#46AAC5"/>
<rect x="967.07" y="1083.41" width="15" height="15" fill="#46AAC5"/>
<rect x="1054.28" y="1072.64" width="15" height="15" fill="#46AAC5"/>
<rect x="1141.49" y="1065.33" width="15" height="15" fill="#46AAC5"/>
<rect x="1228.7" y="1068.02" width="15" height="15" fill="#46AAC5"/>
</g>
<g><polyline points="189.7,951.47 276.91,954.16 364.12,956.47 451.33,957.05 538.53,957.43 625.74,957.82 712.95,958.2 800.16,958.2 887.37,958.2 974.57,953.97 1061.78,949.74 1148.99,948.97 1236.2,949.35" fill="none" stroke="#F79646" stroke-width="4.3" stroke-linejoin="round" stroke-linecap="round"/>
<path d="M189.7 943.97L197.2 958.97L182.2 958.97Z" fill="#F79646"/>
<path d="M276.91 946.66L284.41 961.66L269.41 961.66Z" fill="#F79646"/>
<path d="M364.12 948.97L371.62 963.97L356.62 963.97Z" fill="#F79646"/>
<path d="M451.33 949.55L458.83 964.55L443.83 964.55Z" fill="#F79646"/>
<path d="M538.53 949.93L546.03 964.93L531.03 964.93Z" fill="#F79646"/>
<path d="M625.74 950.32L633.24 965.32L618.24 965.32Z" fill="#F79646"/>
<path d="M712.95 950.7L720.45 965.7L705.45 965.7Z" fill="#F79646"/>
<path d="M800.16 950.7L807.66 965.7L792.66 965.7Z" fill="#F79646"/>
<path d="M887.37 950.7L894.87 965.7L879.87 965.7Z" fill="#F79646"/>
<path d="M974.57 946.47L982.07 961.47L967.07 961.47Z" fill="#F79646"/>
<path d="M1061.78 942.24L1069.28 957.24L1054.28 957.24Z" fill="#F79646"/>
<path d="M1148.99 941.47L1156.49 956.47L1141.49 956.47Z" fill="#F79646"/>
<path d="M1236.2 941.85L1243.7 956.85L1228.7 956.85Z" fill="#F79646"/>
</g>
<g><polyline points="189.7,938.39 276.91,945.12 364.12,946.28 451.33,946.66 538.53,946.66 625.74,945.89 712.95,946.28 800.16,943.97 887.37,942.04 974.57,939.93 1061.78,937.81 1148.99,938.58 1236.2,939.74" fill="none" stroke="#A6B6D9" stroke-width="4.3" stroke-linejoin="round" stroke-linecap="round"/>
<path d="M183 931.69L196.4 945.09M196.4 931.69L183 945.09" stroke="#A6B6D9" stroke-width="1.6" fill="none"/>
<path d="M270.21 938.42L283.61 951.82M283.61 938.42L270.21 951.82" stroke="#A6B6D9" stroke-width="1.6" fill="none"/>
<path d="M357.42 939.58L370.82 952.98M370.82 939.58L357.42 952.98" stroke="#A6B6D9" stroke-width="1.6" fill="none"/>
<path d="M444.63 939.96L458.03 953.36M458.03 939.96L444.63 953.36" stroke="#A6B6D9" stroke-width="1.6" fill="none"/>
<path d="M531.83 939.96L545.23 953.36M545.23 939.96L531.83 953.36" stroke="#A6B6D9" stroke-width="1.6" fill="none"/>
<path d="M619.04 939.19L632.44 952.59M632.44 939.19L619.04 952.59" stroke="#A6B6D9" stroke-width="1.6" fill="none"/>
<path d="M706.25 939.58L719.65 952.98M719.65 939.58L706.25 952.98" stroke="#A6B6D9" stroke-width="1.6" fill="none"/>
<path d="M793.46 937.27L806.86 950.67M806.86 937.27L793.46 950.67" stroke="#A6B6D9" stroke-width="1.6" fill="none"/>
<path d="M880.67 935.34L894.07 948.74M894.07 935.34L880.67 948.74" stroke="#A6B6D9" stroke-width="1.6" fill="none"/>
<path d="M967.87 933.23L981.27 946.63M981.27 933.23L967.87 946.63" stroke="#A6B6D9" stroke-width="1.6" fill="none"/>
<path d="M1055.08 931.11L1068.48 944.51M1068.48 931.11L1055.08 944.51" stroke="#A6B6D9" stroke-width="1.6" fill="none"/>
<path d="M1142.29 931.88L1155.69 945.28M1155.69 931.88L1142.29 945.28" stroke="#A6B6D9" stroke-width="1.6" fill="none"/>
<path d="M1229.5 933.04L1242.9 946.44M1242.9 933.04L1229.5 946.44" stroke="#A6B6D9" stroke-width="1.6" fill="none"/>
</g>
</g>
<g id="legend">
<line x1="1312.6" y1="651.7" x2="1350.2" y2="651.7" stroke="#3A679C" stroke-width="4.3" stroke-linecap="round"/>
<path d="M1325 651.7L1331.3 645.4L1337.6 651.7L1331.3 658Z" fill="#3A679C"/>
<text x="1355.4" font-size="17.8" y="657.6" fill="#000" textLength="200.9" lengthAdjust="spacingAndGlyphs" xml:space="preserve">El Provencio (MOLINETA)</text>
<line x1="1312.6" y1="691.57" x2="1350.2" y2="691.57" stroke="#9C3F3D" stroke-width="4.3" stroke-linecap="round"/>
<rect x="1325" y="685.27" width="12.6" height="12.6" fill="#9C3F3D"/>
<text x="1355.4" font-size="17.8" y="697.47" fill="#000" textLength="175" lengthAdjust="spacingAndGlyphs" xml:space="preserve">Las Mesas (EL NEREO)</text>
<line x1="1312.6" y1="731.44" x2="1350.2" y2="731.44" stroke="#7D9A45" stroke-width="4.3" stroke-linecap="round"/>
<path d="M1331.3 725.14L1337.6 737.74L1325 737.74Z" fill="#7D9A45"/>
<text x="1355.4" font-size="17.8" y="737.34" fill="#000" textLength="183.5" lengthAdjust="spacingAndGlyphs" xml:space="preserve">Pedroñeras (EL TARAY)</text>
<line x1="1312.6" y1="771.31" x2="1350.2" y2="771.31" stroke="#664E83" stroke-width="4.3" stroke-linecap="round"/>
<path d="M1325.3 765.31L1337.3 777.31M1337.3 765.31L1325.3 777.31" stroke="#664E83" stroke-width="1.6" fill="none"/>
<text x="1355.4" font-size="17.8" y="777.21" fill="#000" textLength="230.5" lengthAdjust="spacingAndGlyphs" xml:space="preserve">Pedroñeras (MONTE DOVAL)</text>
<line x1="1312.6" y1="811.18" x2="1350.2" y2="811.18" stroke="#398CA3" stroke-width="4.3" stroke-linecap="round"/>
<path d="M1325.3 805.18L1337.3 817.18M1337.3 805.18L1325.3 817.18M1331.3 805.18L1331.3 817.18" stroke="#398CA3" stroke-width="1.6" fill="none"/>
<text x="1355.4" font-size="17.8" y="817.08" fill="#000" textLength="209.4" lengthAdjust="spacingAndGlyphs" xml:space="preserve">Socuellamos  (LA CASILLA)</text>
<line x1="1312.6" y1="851.05" x2="1350.2" y2="851.05" stroke="#CB7B38" stroke-width="4.3" stroke-linecap="round"/>
<circle cx="1331.3" cy="851.05" r="6.3" fill="#CB7B38"/>
<text x="1355.4" font-size="17.8" y="856.95" fill="#000" textLength="190.9" lengthAdjust="spacingAndGlyphs" xml:space="preserve">Socuellamos (EL TARAY)</text>
<line x1="1312.6" y1="890.92" x2="1350.2" y2="890.92" stroke="#4A7EBB" stroke-width="4.3" stroke-linecap="round"/>
<path d="M1325.3 890.92L1337.3 890.92M1331.3 884.92L1331.3 896.92" stroke="#4A7EBB" stroke-width="1.6" fill="none"/>
<text x="1355.4" font-size="17.8" y="896.82" fill="#000" textLength="207.6" lengthAdjust="spacingAndGlyphs" xml:space="preserve">Villarrobledo (CARRASCO)</text>
<line x1="1312.6" y1="930.79" x2="1350.2" y2="930.79" stroke="#BE4B48" stroke-width="4.3" stroke-linecap="round"/>
<text x="1355.4" font-size="17.8" y="936.69" fill="#000" textLength="209.4" lengthAdjust="spacingAndGlyphs" xml:space="preserve">Villarrobledo (MACATELA)</text>
<line x1="1312.6" y1="970.66" x2="1350.2" y2="970.66" stroke="#98B954" stroke-width="4.3" stroke-linecap="round"/>
<text x="1355.4" font-size="17.8" y="976.56" fill="#000" textLength="291.6" lengthAdjust="spacingAndGlyphs" xml:space="preserve">Socuellamos (LINDE SOCUELLAMOS)</text>
<line x1="1312.6" y1="1010.53" x2="1350.2" y2="1010.53" stroke="#7D60A0" stroke-width="4.3" stroke-linecap="round"/>
<path d="M1325 1010.53L1331.3 1004.23L1337.6 1010.53L1331.3 1016.83Z" fill="#7D60A0"/>
<text x="1355.4" font-size="17.8" y="1016.43" fill="#000" textLength="210.2" lengthAdjust="spacingAndGlyphs" xml:space="preserve">Villarrobledo  (CENANTES)</text>
<line x1="1312.6" y1="1050.4" x2="1350.2" y2="1050.4" stroke="#46AAC5" stroke-width="4.3" stroke-linecap="round"/>
<rect x="1325" y="1044.1" width="12.6" height="12.6" fill="#46AAC5"/>
<text x="1355.4" font-size="17.8" y="1056.3" fill="#000" textLength="190.2" lengthAdjust="spacingAndGlyphs" xml:space="preserve">Villarrobledo (LIZCANO)</text>
<line x1="1312.6" y1="1090.27" x2="1350.2" y2="1090.27" stroke="#F79646" stroke-width="4.3" stroke-linecap="round"/>
<path d="M1331.3 1083.97L1337.6 1096.57L1325 1096.57Z" fill="#F79646"/>
<text x="1355.4" font-size="17.8" y="1096.17" fill="#000" textLength="284.2" lengthAdjust="spacingAndGlyphs" xml:space="preserve">Tomelloso (CASA DIVINA PASTORA)</text>
<line x1="1312.6" y1="1130.14" x2="1350.2" y2="1130.14" stroke="#A6B6D9" stroke-width="4.3" stroke-linecap="round"/>
<path d="M1325.3 1124.14L1337.3 1136.14M1337.3 1124.14L1325.3 1136.14" stroke="#A6B6D9" stroke-width="1.6" fill="none"/>
<text x="1355.4" font-size="17.8" y="1136.04" fill="#000" textLength="175.3" lengthAdjust="spacingAndGlyphs" xml:space="preserve">Tomelloso (EL LLANO)</text>
</g>
</g>
</svg>
</body></html>
